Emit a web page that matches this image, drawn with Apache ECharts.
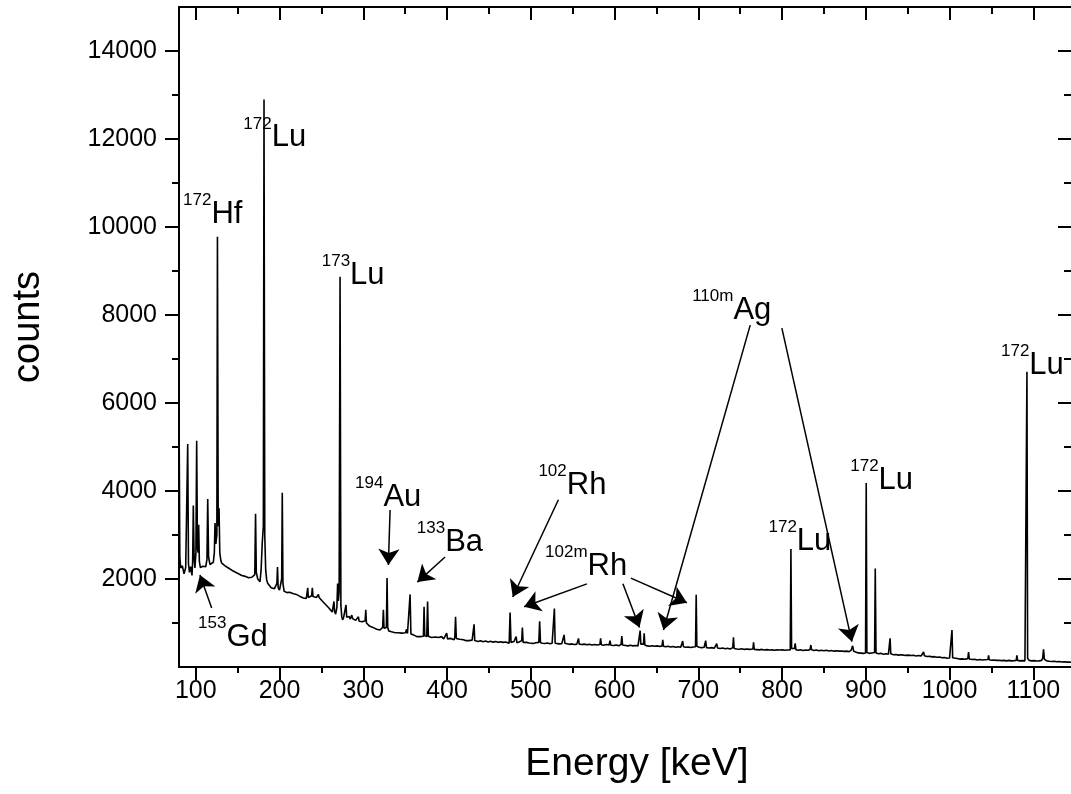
<!DOCTYPE html>
<html lang="en">
  <head>
    <meta charset="UTF-8" />
    <title>Spectrum</title>
    <script src="https://cdn.jsdelivr.net/npm/echarts/dist/echarts.min.js"></script>
    <style>
      html, body { margin: 0; padding: 0; background: #fff; }
      #main { width: 1071px; height: 794px; }
    </style>
  </head>
  <body>
    <div id="main"></div>
    <script type="text/javascript">
      // axis ticks
      var xMajor = [100, 200, 300, 400, 500, 600, 700, 800, 900, 1000, 1100];
      var xMinor = [150, 250, 350, 450, 550, 650, 750, 850, 950, 1050];
      var yMajor = [2000, 4000, 6000, 8000, 10000, 12000, 14000];
      var yMinor = [1000, 3000, 5000, 7000, 9000, 11000, 13000];

      // [energy keV, counts]
      var spectrum = [
        [80, 5950], [81, 2500], [82, 2250], [84, 2300], [86, 2120], [88, 2260], [89.5, 2300], [90.4, 5070], [91.3, 2350],
        [92.5, 2150], [94, 2280], [95.5, 2080], [96.3, 2400], [97.1, 3670], [98, 2500], [99, 2250], [100.2, 2600],
        [101.1, 5140], [102, 2700], [102.8, 2600], [103.5, 3230], [104.3, 2400], [105.5, 2260], [107, 2240],
        [108.5, 2290], [110, 2330], [112, 2280], [113.4, 2450], [114.3, 3820], [115.3, 2500], [117, 2330], [119, 2290],
        [121, 2380], [122.2, 2600], [123, 3270], [124, 2800], [125.2, 3000], [125.9, 9780], [126.8, 3200],
        [127.8, 3610], [128.7, 2600], [130, 2420], [131, 2360], [133, 2380], [135, 2300], [137, 2330], [139, 2250],
        [141, 2280], [143, 2200], [145, 2230], [147, 2160], [149, 2190], [151, 2120], [153, 2150], [155, 2080],
        [157, 2110], [159, 2060], [161, 2090], [163, 2030], [165, 2070], [167, 2040], [169, 2000], [170.5, 2100],
        [171.4, 3480], [172.3, 2150], [174, 2000], [175.5, 1960], [176.7, 1940], [178, 2200], [179.4, 2820],
        [180.7, 3200], [181.5, 12900], [182.4, 3000], [183.5, 2200], [184.7, 1980], [186, 1900], [188, 1850],
        [190, 1800], [192, 1820], [194, 1780], [196, 1760], [196.9, 1900], [197.6, 2270], [198.4, 1800], [200, 1750],
        [202, 1780], [202.6, 2000], [203.3, 3960], [204.1, 1900], [205.5, 1720], [207, 1700], [209, 1690],
        [210.5, 1680], [212, 1700], [214, 1660], [216, 1670], [218, 1640], [220, 1650], [222, 1620], [224, 1610],
        [226, 1590], [228.4, 1570], [230, 1600], [232, 1560], [233, 1590], [233.7, 1800], [234.4, 1580], [236, 1600],
        [238.4, 1620], [239.2, 1800], [240, 1600], [242, 1560], [244, 1580], [245.7, 1600], [246.4, 1650],
        [247.3, 1580], [249, 1560], [251, 1500], [253, 1470], [255, 1420], [257, 1390], [259, 1340], [261, 1300],
        [263, 1250], [264.3, 1230], [265, 1490], [265.8, 1260], [267, 1200], [268.5, 1350], [269.4, 1900],
        [270.3, 1500], [271.2, 1700], [272.3, 8870], [273.3, 1400], [274.3, 1150], [275.3, 1070], [276.5, 1120],
        [277.5, 1080], [278.6, 1150], [279.4, 1410], [280.2, 1130], [281.5, 1100], [283, 1150], [284.5, 1090],
        [286.3, 1180], [287.3, 1100], [289, 1070], [291, 1060], [293.3, 1060], [294.2, 1140], [295.1, 1040],
        [297, 1020], [299, 1030], [301, 1000], [302.2, 1050], [303, 1300], [303.8, 1000], [305.5, 960], [307.5, 930],
        [309.5, 950], [311.5, 900], [313.5, 880], [316, 860], [318, 870], [320, 840], [322, 850], [323.2, 900],
        [324, 1300], [324.8, 880], [326, 840], [327.6, 900], [328.4, 2020], [329.2, 900], [330.5, 820], [332, 810],
        [333.8, 800], [336, 790], [338, 780], [340, 770], [342, 780], [344, 760], [346, 770], [347.7, 770],
        [350.5, 780], [351.7, 860], [352.8, 760], [354.8, 740], [355.9, 1650], [356.9, 750], [358.5, 720], [360, 730],
        [362, 700], [363.9, 690], [366, 700], [368, 690], [370, 670], [371.8, 700], [372.6, 1370], [373.4, 710],
        [375.8, 690], [376.8, 1490], [377.7, 700], [379.5, 680], [381.5, 670], [383.6, 660], [386, 680], [388, 650],
        [390, 670], [392, 650], [393.5, 690], [394.3, 660], [396, 640], [398, 650], [399.6, 770], [400.6, 640],
        [402.5, 630], [404.5, 650], [406.5, 630], [408.5, 620], [409.3, 680], [410.2, 1140], [411.1, 650], [413, 620],
        [415, 630], [417, 610], [419.6, 620], [422, 600], [424, 615], [426, 600], [428, 590], [430, 610],
        [431.5, 600], [432.3, 970], [433.1, 600], [435, 590], [437, 580], [440, 595], [443, 575], [446, 590],
        [449, 570], [452, 585], [455, 565], [458, 580], [461, 560], [464, 575], [467, 560], [470, 570], [472, 560],
        [474.2, 540], [475.3, 1240], [476.4, 560], [478, 540], [480, 580], [481, 540], [482.5, 690], [483.5, 550],
        [486, 570], [488, 560], [489.2, 600], [490, 895], [490.8, 560], [493, 540], [495, 560], [498, 545],
        [500, 550], [503, 535], [506, 550], [509.6, 560], [510.6, 1040], [511.6, 550], [514, 540], [517, 535],
        [520, 545], [523, 530], [525.5, 540], [527.3, 560], [528.2, 1330], [529.1, 540], [531, 530], [534, 525],
        [537, 530], [539, 550], [539.8, 730], [540.7, 540], [543, 530], [546, 515], [549, 525], [552, 510],
        [555, 520], [556.2, 530], [557, 650], [557.8, 520], [561, 510], [564, 520], [567, 505], [570, 515],
        [573, 500], [576, 510], [579, 500], [582.5, 510], [583.4, 650], [584.3, 505], [587, 495], [590, 510],
        [593.5, 500], [594.6, 600], [595.6, 495], [599, 490], [602, 500], [605, 485], [607.8, 510], [608.7, 705],
        [609.6, 500], [613, 490], [616, 480], [619, 495], [622, 480], [625, 490], [628, 480], [629.8, 500],
        [630.6, 825], [631.4, 520], [634.6, 520], [635.4, 765], [636.2, 500], [639, 480], [642, 470], [645, 485],
        [648, 470], [651, 480], [654, 465], [656.8, 480], [657.6, 615], [658.4, 470], [661, 460], [664, 470],
        [667, 455], [670, 465], [673, 450], [676, 460], [679, 450], [680.6, 470], [681.4, 590], [682.2, 460],
        [685, 450], [688, 455], [691, 445], [694, 455], [696.7, 460], [697.5, 1640], [698.3, 470], [701, 450],
        [704, 440], [707, 450], [708.8, 600], [709.8, 440], [713, 430], [716, 440], [719, 425], [722, 530],
        [723, 430], [726, 420], [729, 430], [732, 415], [735, 425], [738, 410], [741.2, 440], [742, 675],
        [742.8, 420], [746, 410], [749, 405], [752, 415], [755, 400], [758, 410], [761, 400], [765.2, 410],
        [766, 560], [766.8, 400], [770, 395], [773, 390], [776, 400], [779, 385], [782, 395], [785, 385], [788, 390],
        [791, 380], [794, 390], [797, 385], [800, 390], [803, 380], [806, 385], [809.8, 390], [810.6, 2680],
        [811.4, 420], [813, 400], [814.8, 420], [815.7, 540], [816.6, 390], [819, 380], [822, 390], [825, 375],
        [828, 385], [831, 380], [833.5, 400], [834.4, 500], [835.3, 390], [838, 375], [841, 385], [844, 370],
        [847, 380], [850, 370], [853, 380], [856, 365], [859, 375], [862, 360], [865, 370], [868, 360], [871, 365],
        [874, 355], [877, 360], [880, 350], [882.5, 380], [884.3, 480], [885.5, 360], [888, 340], [891, 320],
        [894, 315], [897, 310], [899.7, 320], [900.5, 4180], [901.3, 330], [904, 310], [907, 320], [910.5, 330],
        [911.3, 2240], [912.2, 320], [915, 300], [918, 310], [921, 290], [924, 300], [927, 290], [928.3, 310],
        [929, 650], [929.8, 300], [933, 280], [936, 285], [939, 270], [942, 280], [945, 270], [948, 265], [951, 270],
        [954, 260], [957, 265], [960, 250], [963, 260], [966, 250], [968, 270], [969, 340], [970, 255], [973, 240],
        [976, 245], [979, 230], [982, 235], [985, 220], [988, 225], [991, 210], [994, 215], [997, 200], [1000, 205],
        [1002.1, 220], [1002.9, 840], [1003.7, 210], [1006, 190], [1009, 195], [1012, 180], [1015, 185],
        [1018, 175], [1021.8, 190], [1022.7, 340], [1023.6, 180], [1027, 170], [1030, 175], [1033, 160],
        [1036, 170], [1039, 160], [1042, 165], [1045.8, 170], [1046.6, 265], [1047.4, 165], [1050, 155],
        [1053, 160], [1056, 150], [1059, 155], [1062, 145], [1065, 150], [1068, 140], [1071, 150], [1074, 140],
        [1077, 145], [1079.6, 150], [1080.4, 265], [1081.2, 150], [1084, 140], [1087, 145], [1090, 140],
        [1091.6, 150], [1092.4, 6710], [1093.2, 200], [1095, 150], [1098, 140], [1101, 145], [1104, 135],
        [1107, 140], [1110, 150], [1111.2, 200], [1112.2, 400], [1113.2, 180], [1116, 140], [1119, 130],
        [1122, 125], [1125, 130], [1128, 120], [1131, 125], [1134, 115], [1137, 120], [1140, 110], [1143, 115],
        [1145, 108]
      ];

      // isotope names: mass number, element
      var isoMass = ['172', '172', '173', '194', '133', '153', '102', '102m', '110m', '172', '172', '172'];
      var isoName = ['Hf', 'Lu', 'Lu', 'Au', 'Ba', 'Gd', 'Rh', 'Rh', 'Ag', 'Lu', 'Lu', 'Lu'];
      // where each name sits [keV, counts]
      var isoAt = [
        [84.8, 10295], [156.8, 12034], [250.4, 8909], [290.2, 3864], [363.9, 2841], [102.7, 682],
        [509.1, 4136], [517.1, 2295], [692.7, 8114], [783.8, 2864], [881.4, 4250], [1061.4, 6864]
      ];
      // arrows from label to peak [keV, counts, keV, counts]
      var arrows = [
        [119, 1340, 105, 2090],
        [332, 3570, 330, 2320],
        [397.7, 2500, 364.6, 1930],
        [533, 3800, 478.5, 1590],
        [567, 1890, 492, 1370],
        [610, 1890, 629.8, 900],
        [619.5, 2020, 686.4, 1460],
        [762, 7770, 658.4, 840],
        [799.8, 7700, 883.4, 575]
      ];

      var FONT = "'Liberation Sans', Arial, sans-serif";
      var black = '#000';

      function plain(v) {
        return String(v);
      }

      // the original plot is cut at the right edge of the picture
      function xAx(pos, ticks, len, inside, withLabel, withLine) {
        return {
          type: 'value', min: 80, max: 1145, position: pos,
          axisLine: { show: withLine, onZero: false, lineStyle: { color: black, width: 2 } },
          axisTick: { show: true, inside: inside, length: len, customValues: ticks, lineStyle: { color: black, width: 2 } },
          axisLabel: { show: withLabel, customValues: ticks, formatter: plain, color: black, fontSize: 25, fontFamily: FONT, margin: 12 },
          splitLine: { show: false }
        };
      }
      function yAx(pos, ticks, len, inside, withLabel, withLine) {
        return {
          type: 'value', min: 0, max: 15000, position: pos,
          axisLine: { show: withLine, onZero: false, lineStyle: { color: black, width: 2 } },
          axisTick: { show: true, inside: inside, length: len, customValues: ticks, lineStyle: { color: black, width: 2 } },
          axisLabel: { show: withLabel, customValues: ticks, formatter: plain, color: black, fontSize: 25, fontFamily: FONT, margin: 22 },
          splitLine: { show: false }
        };
      }

      var xBottom = xAx('bottom', xMajor, 13, false, true, true);
      xBottom.name = 'Energy [keV]';
      xBottom.nameLocation = 'middle';
      xBottom.nameGap = 78;
      xBottom.nameTextStyle = { color: black, fontSize: 39, fontFamily: FONT, padding: [0, 0, 0, 24] };

      var yLeft = yAx('left', yMajor, 14, false, true, true);
      yLeft.name = 'counts';
      yLeft.nameLocation = 'middle';
      yLeft.nameGap = 131;
      yLeft.nameTextStyle = { color: black, fontSize: 38, fontFamily: FONT, padding: [0, 0, 0, 20] };

      var myChart = echarts.init(document.getElementById('main'));
      myChart.setOption({
        animation: false,
        grid: { left: 179, right: 0, top: 7, bottom: 127 },
        xAxis: [
          xBottom,
          xAx('bottom', xMinor, 6, false, false, false),
          xAx('top', xMajor, 13, true, false, true),
          xAx('top', xMinor, 7, true, false, false)
        ],
        yAxis: [
          yLeft,
          yAx('left', yMinor, 7, false, false, false),
          yAx('right', yMajor, 13, true, false, false),
          yAx('right', yMinor, 7, true, false, false)
        ],
        series: [{
          type: 'line',
          data: spectrum,
          showSymbol: false,
          symbol: 'none',
          silent: true,
          lineStyle: { color: black, width: 1.6 },
          markPoint: {
            silent: true,
            symbol: 'circle',
            symbolSize: 0,
            label: {
              show: true,
              position: 'right',
              distance: 0,
              color: black,
              fontFamily: FONT,
              rich: {
                s: { fontSize: 17, lineHeight: 17, verticalAlign: 'top', fontFamily: FONT, color: black },
                m: { fontSize: 31, lineHeight: 44, fontFamily: FONT, color: black }
              }
            },
            data: isoAt.map(function (p, i) {
              return {
                coord: p,
                label: { formatter: '{s|' + isoMass[i] + '}{m|' + isoName[i] + '}' }
              };
            })
          },
          markLine: {
            silent: true,
            symbol: ['none', 'arrow'],
            symbolSize: 16,
            label: { show: false },
            lineStyle: { color: black, width: 1.5, type: 'solid' },
            emphasis: { disabled: true },
            data: arrows.map(function (a) {
              return [{ coord: [a[0], a[1]] }, { coord: [a[2], a[3]] }];
            })
          }
        }]
      });
    </script>
  </body>
</html>
